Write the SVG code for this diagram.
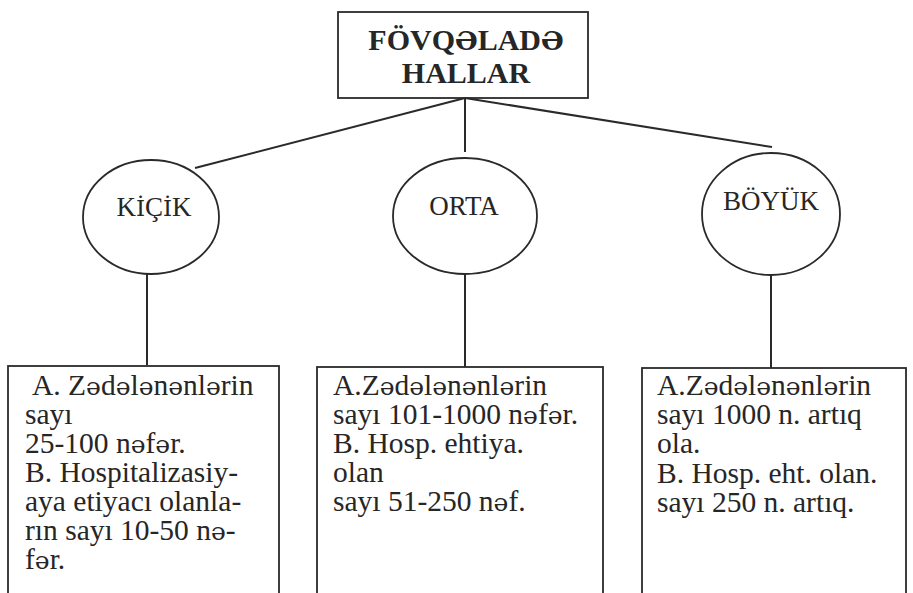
<svg xmlns="http://www.w3.org/2000/svg" width="913" height="593" viewBox="0 0 913 593">
<style>
.bg{fill:#ffffff}
.shape{fill:none;stroke:#2a2a2a;stroke-width:1.8}
.conn{fill:none;stroke:#2a2a2a;stroke-width:2}
.title{font-family:'Liberation Serif',serif;font-weight:bold;font-size:30px;fill:#262626;text-anchor:middle}
.lbl{font-family:'Liberation Serif',serif;font-size:27px;fill:#262626;text-anchor:middle}
.body{font-family:'Liberation Serif',serif;font-size:29.5px;fill:#262626}
.e{font-family:'DejaVu Serif',serif;font-size:25px}
.et{font-family:'DejaVu Serif',serif;font-size:26px}
.ei{font-family:'DejaVu Serif',serif;font-size:23px}
</style>
<rect class="bg" x="0" y="0" width="913" height="593"/>
<g id="connectors">
<line class="conn" x1="465" y1="98" x2="195" y2="168"/>
<line class="conn" x1="465" y1="98" x2="465" y2="152"/>
<line class="conn" x1="465" y1="98" x2="772" y2="147"/>
<line class="conn" x1="147" y1="274" x2="147" y2="365"/>
<line class="conn" x1="465" y1="275" x2="465" y2="367"/>
<line class="conn" x1="771" y1="275" x2="771" y2="368"/>
</g>
<g id="root">
<rect class="shape" x="338" y="12" width="250" height="86"/>
<text class="title" x="466" y="50">FÖVQ<tspan class="et">Ə</tspan>LAD<tspan class="et">Ə</tspan></text>
<text class="title" x="466" y="83">HALLAR</text>
</g>
<g id="kicik">
<ellipse class="shape" cx="151" cy="217" rx="68" ry="57"/>
<text class="lbl" x="154" y="216">K<tspan class="ei">İ</tspan>Ç<tspan class="ei">İ</tspan>K</text>
</g>
<g id="orta">
<ellipse class="shape" cx="465" cy="216" rx="72" ry="58"/>
<text class="lbl" x="464" y="215">ORTA</text>
</g>
<g id="boyuk">
<ellipse class="shape" cx="771" cy="214" rx="69" ry="61"/>
<text class="lbl" x="771" y="210">BÖYÜK</text>
</g>
<g id="box-kicik">
<rect class="shape" x="8" y="366" width="271" height="240"/>
<text class="body" x="32" y="395">A. Z<tspan class="e">ə</tspan>d<tspan class="e">ə</tspan>l<tspan class="e">ə</tspan>n<tspan class="e">ə</tspan>nl<tspan class="e">ə</tspan>rin</text>
<text class="body" x="25" y="424">sayı</text>
<text class="body" x="25" y="453">25-100 n<tspan class="e">ə</tspan>f<tspan class="e">ə</tspan>r.</text>
<text class="body" x="25" y="482">B. Hospitalizasiy-</text>
<text class="body" x="25" y="511">aya etiyacı olanla-</text>
<text class="body" x="25" y="540">rın sayı 10-50 n<tspan class="e">ə</tspan>-</text>
<text class="body" x="25" y="569">f<tspan class="e">ə</tspan>r.</text>
</g>
<g id="box-orta">
<rect class="shape" x="317" y="367" width="286" height="240"/>
<text class="body" x="333" y="395">A.Z<tspan class="e">ə</tspan>d<tspan class="e">ə</tspan>l<tspan class="e">ə</tspan>n<tspan class="e">ə</tspan>nl<tspan class="e">ə</tspan>rin</text>
<text class="body" x="333" y="424">sayı 101-1000 n<tspan class="e">ə</tspan>f<tspan class="e">ə</tspan>r.</text>
<text class="body" x="333" y="453">B. Hosp. ehtiya.</text>
<text class="body" x="333" y="482">olan</text>
<text class="body" x="333" y="511">sayı 51-250 n<tspan class="e">ə</tspan>f.</text>
</g>
<g id="box-boyuk">
<rect class="shape" x="642" y="368" width="264" height="240"/>
<text class="body" x="657" y="395">A.Z<tspan class="e">ə</tspan>d<tspan class="e">ə</tspan>l<tspan class="e">ə</tspan>n<tspan class="e">ə</tspan>nl<tspan class="e">ə</tspan>rin</text>
<text class="body" x="657" y="424">sayı 1000 n. artıq</text>
<text class="body" x="657" y="453">ola.</text>
<text class="body" x="657" y="483">B. Hosp. eht. olan.</text>
<text class="body" x="657" y="512">sayı 250 n. artıq.</text>
</g>
</svg>
